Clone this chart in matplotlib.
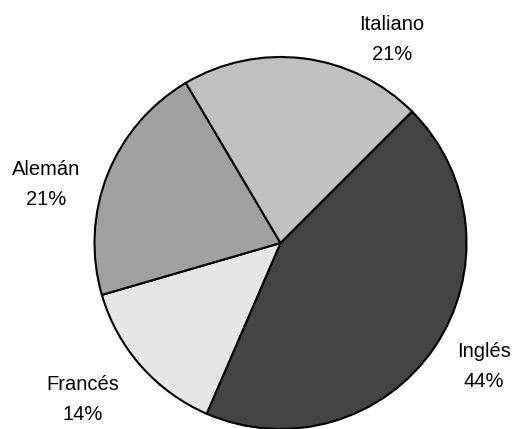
import matplotlib
matplotlib.use("Agg")
import matplotlib.pyplot as plt

labels = ["Inglés", "Francés", "Alemán", "Italiano"]
values = [44, 14, 21, 21]
colors = ["#444444", "#e6e6e6", "#a0a0a0", "#c0c0c0"]
pct_labels = ["44%", "14%", "21%", "21%"]

# label positions (x center, name baseline y, in pixel coords from top)
label_pos = {
    "Inglés": (484, 357),
    "Francés": (82.5, 390),
    "Alemán": (46, 175),
    "Italiano": (392, 30),
}

W, H = 516, 429
fig = plt.figure(figsize=(W / 100, H / 100), dpi=100)
ax = fig.add_axes([0, 0, 1, 1])
ax.set_xlim(0, W)
ax.set_ylim(0, H)
ax.set_aspect("equal")
ax.axis("off")

ax.pie(values, colors=colors, startangle=45, counterclock=False,
       center=(280.5, H - 243), radius=186,
       wedgeprops=dict(edgecolor="black", linewidth=1.5))
ax.set_xlim(0, W)
ax.set_ylim(0, H)

for lab, pct in zip(labels, pct_labels):
    x, yb = label_pos[lab]
    ax.text(x, H - yb, lab, ha="center", va="baseline", fontsize=14.5,
            family="Liberation Sans", color="black")
    ax.text(x, H - (yb + 30), pct, ha="center", va="baseline", fontsize=14.5,
            family="Liberation Sans", color="black")

fig.savefig("out.png", dpi=100)
